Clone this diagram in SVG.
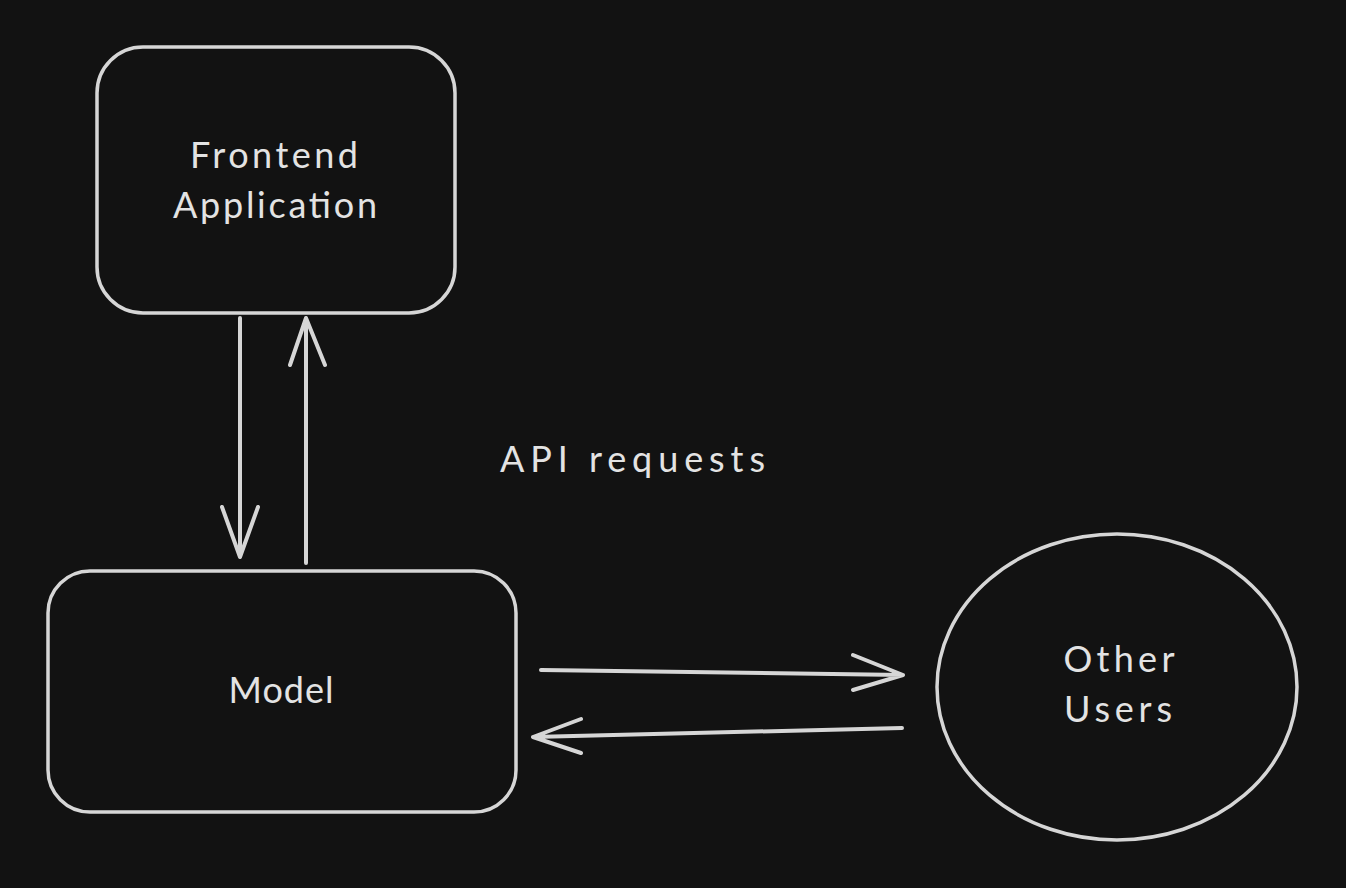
<svg xmlns="http://www.w3.org/2000/svg" width="1346" height="888" viewBox="0 0 1346 888">
<style>
.shape{fill:none;stroke:#d6d6d6;stroke-width:3.5;stroke-linecap:round;stroke-linejoin:round}
.conn{fill:none;stroke:#d6d6d6;stroke-width:4;stroke-linecap:round;stroke-linejoin:round}
.lbl{fill:#e3e3e3;font-family:"Lato","Liberation Sans",sans-serif;font-size:36px;text-anchor:middle}
</style>
<rect width="1346" height="888" fill="#121212"/>
<g id="frontend">
<rect class="shape" x="97" y="47" width="358" height="266" rx="46"/>
<text class="lbl" x="274" y="168" textLength="168" lengthAdjust="spacing">Frontend</text>
<text class="lbl" x="275" y="218" textLength="204" lengthAdjust="spacing">Application</text>
</g>
<g id="model">
<rect class="shape" x="48" y="571" width="468" height="241" rx="42"/>
<text class="lbl" x="281" y="703" textLength="105" lengthAdjust="spacing">Model</text>
</g>
<g id="other-users">
<ellipse class="shape" cx="1117" cy="687" rx="180" ry="153"/>
<text class="lbl" x="1119" y="672" textLength="111" lengthAdjust="spacing">Other</text>
<text class="lbl" x="1118" y="722" textLength="108" lengthAdjust="spacing">Users</text>
</g>
<g id="api-label">
<text class="lbl" x="500" y="472" style="text-anchor:start" textLength="265" lengthAdjust="spacing">API requests</text>
</g>
<g id="connectors">
<path class="conn" d="M240 318 L240 557 M222 507 L240 557 L258 507"/>
<path class="conn" d="M306 563 L306 318 M290 365 L306 318 L325 365"/>
<path class="conn" d="M541 670 L903 675 M853 655 L903 675 L853 690"/>
<path class="conn" d="M902 728 L533 737 M581 719 L533 737 L581 753"/>
</g>
</svg>
